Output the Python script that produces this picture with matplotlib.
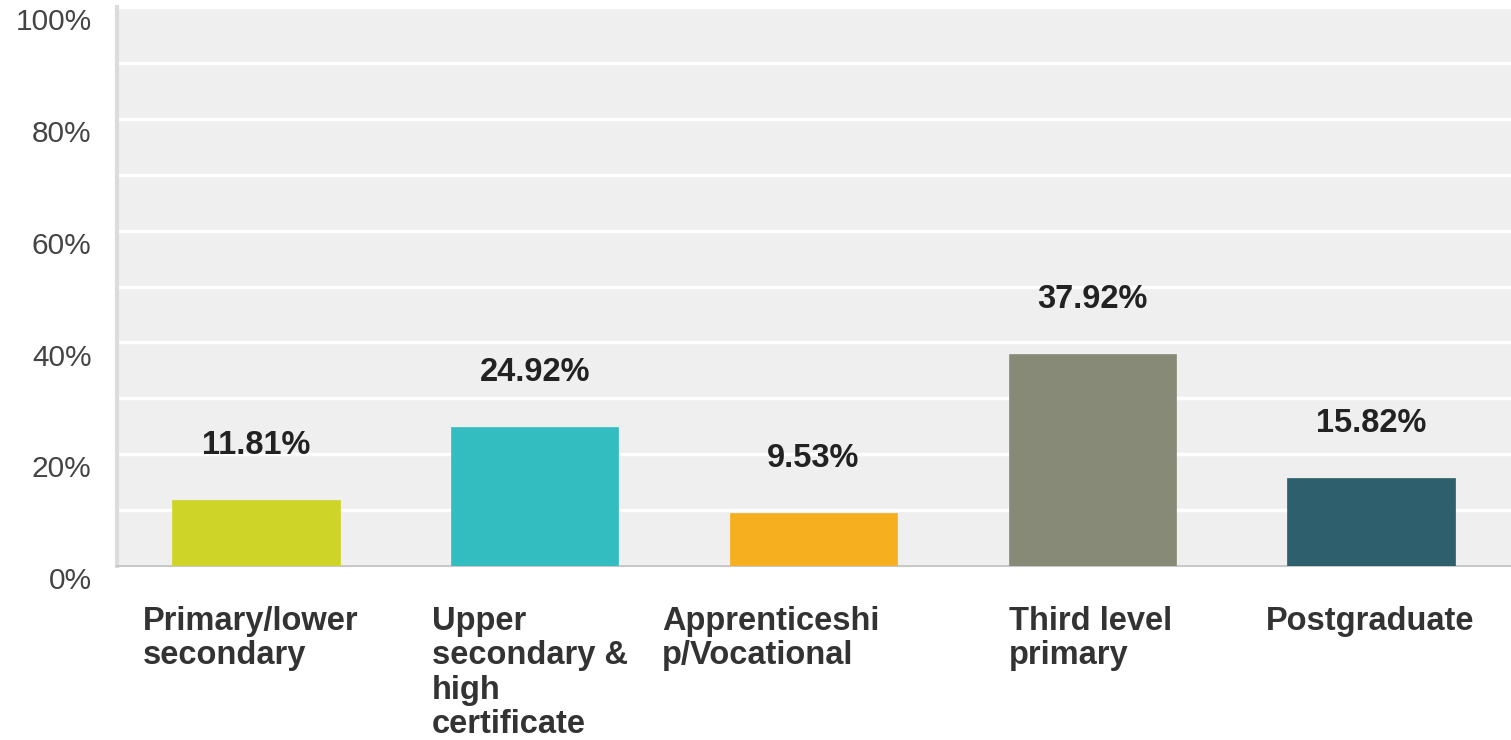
import matplotlib
matplotlib.use("Agg")
import matplotlib.pyplot as plt
import numpy as np

categories = ["Primary/lower\nsecondary", "Upper\nsecondary &\nhigh\ncertificate",
              "Apprenticeshi\np/Vocational", "Third level\nprimary", "Postgraduate"]
values = [11.81, 24.92, 9.53, 37.92, 15.82]
value_labels = ["11.81%", "24.92%", "9.53%", "37.92%", "15.82%"]
yticks = [0, 20, 40, 60, 80, 100]
ytick_labels = ["0%", "20%", "40%", "60%", "80%", "100%"]

colors = ["#cfd428", "#33bdc0", "#f6af1f", "#888a78", "#2e5f6c"]
label_nudge_px = [-5, -5, -43, -2, -1]

plt.rcParams['font.family'] = ['Liberation Sans', 'DejaVu Sans']

fig = plt.figure(figsize=(15.11, 7.40), dpi=100)
ax = fig.add_axes([116.5/1511, 1-566/740, (1510.5-116.5)/1511, (566-7)/740])
ax.set_facecolor("#efefef")

x = np.arange(len(values))
ax.bar(x, values, width=0.6, color=colors, edgecolor=colors, linewidth=0.5, zorder=3)

ax.set_xlim(-0.5, len(values) - 0.5)
ax.set_ylim(0, 100)
ax.set_yticks(np.arange(0, 101, 10))
ax.yaxis.grid(True, color="white", linewidth=2.5, zorder=1)
ax.set_axisbelow(True)
ax.tick_params(axis="y", length=0, labelleft=False)

for yv, yl in zip(yticks, ytick_labels):
    ax.annotate(yl, (0, yv), xycoords=("axes fraction", "data"),
                xytext=(-18, -11), textcoords="offset points",
                ha="right", va="center", fontsize=21.5, color="#444444")

ax.set_xticks([])
for s in ["top", "right"]:
    ax.spines[s].set_visible(False)
ax.spines["left"].set_color("#dcdcdc")
ax.spines["left"].set_linewidth(3)
ax.spines["bottom"].set_color("#c8c8c8")
ax.spines["bottom"].set_linewidth(1.5)

for xi, v, t in zip(x, values, value_labels):
    ax.annotate(t, (xi, v), xytext=(0, 39), textcoords="offset points",
                ha="center", va="center", fontsize=23.5, fontweight="bold", color="#222222")

for xi, c, n in zip(x, categories, label_nudge_px):
    ax.annotate(c, (xi, 0), xycoords=("data", "axes fraction"),
                xytext=(n * 0.72, -29), textcoords="offset points",
                ha="center", va="top", multialignment="left",
                fontsize=23.5, fontweight="bold", color="#333333", linespacing=1.13)

fig.savefig("out.png", dpi=100)
